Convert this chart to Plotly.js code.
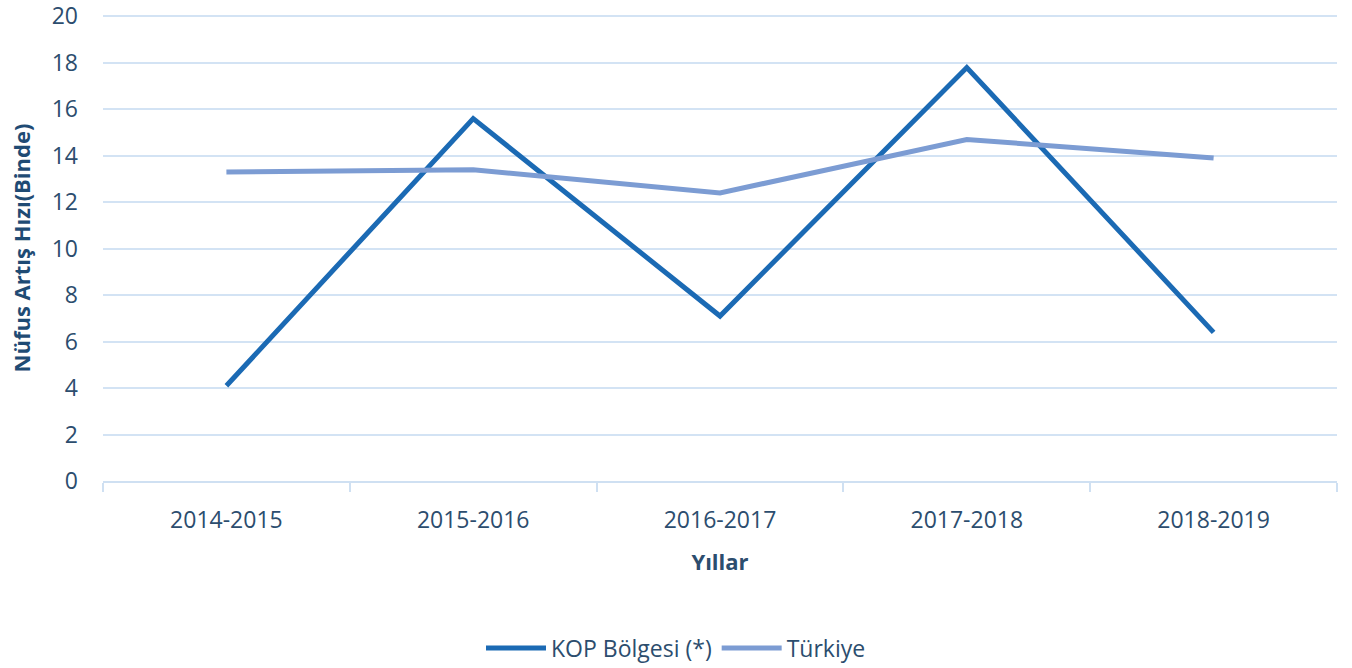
<!DOCTYPE html>
<html><head><meta charset="utf-8">
<script src="https://cdn.plot.ly/plotly-3.0.1.min.js"></script>
<style>html,body{margin:0;padding:0;background:#fff}#chart{width:1352px;height:668px}</style>
</head><body><div id="chart"></div>
<script>
const categories = ["2014-2015","2015-2016","2016-2017","2017-2018","2018-2019"];
const kopValues = [4.1, 15.6, 7.1, 17.8, 6.4];
const turkiyeValues = [13.3, 13.4, 12.4, 14.7, 13.9];
const seriesNames = ["KOP Bölgesi (*)", "Türkiye"];

const textColor = "#2c4d6e";
const traces = [
  {x: categories, y: kopValues, name: seriesNames[0], type: "scatter", mode: "lines",
   line: {color: "#1b6ab4", width: 5}},
  {x: categories, y: turkiyeValues, name: seriesNames[1], type: "scatter", mode: "lines",
   line: {color: "#7c9cd3", width: 5}}
];
const layout = {
  width: 1352, height: 668,
  margin: {l: 103, r: 15, t: 15, b: 187},
  paper_bgcolor: "#fff", plot_bgcolor: "#fff",
  font: {family: "Open Sans, sans-serif", color: textColor, size: 22},
  showlegend: true,
  legend: {orientation: "h", x: 0.5, xanchor: "center", xref: "container", y: 0.03, yref: "container", yanchor: "middle",
           font: {size: 23, color: textColor}, itemwidth: 60, tracegroupgap: 0},
  xaxis: {
    type: "category", range: [-0.5, 4.5], tickson: "boundaries", ticks: "outside", ticklen: 9,
    tickcolor: "#cfe0f2", tickwidth: 2, showline: true, linecolor: "#cfe0f2", linewidth: 2,
    showgrid: false, tickfont: {size: 23, color: textColor}, ticklabelstandoff: 17,
    title: {text: "<b>Yıllar</b>", font: {size: 22, color: textColor}, standoff: 21}
  },
  yaxis: {
    range: [0, 20.06], tickvals: [0,2,4,6,8,10,12,14,16,18,20], showgrid: true, gridcolor: "#d3e3f4", gridwidth: 2,
    zeroline: false, showline: false, ticks: "", tickfont: {size: 23, color: textColor},
    ticklabelstandoff: 24, ticklabeloverflow: "allow",
    title: {text: "<b>Nüfus Artış Hızı(Binde)</b>", font: {size: 22, color: "#1f4b74"}, standoff: 14}
  }
};
Plotly.newPlot("chart", traces, layout, {displayModeBar: false, staticPlot: true});
</script></body></html>
